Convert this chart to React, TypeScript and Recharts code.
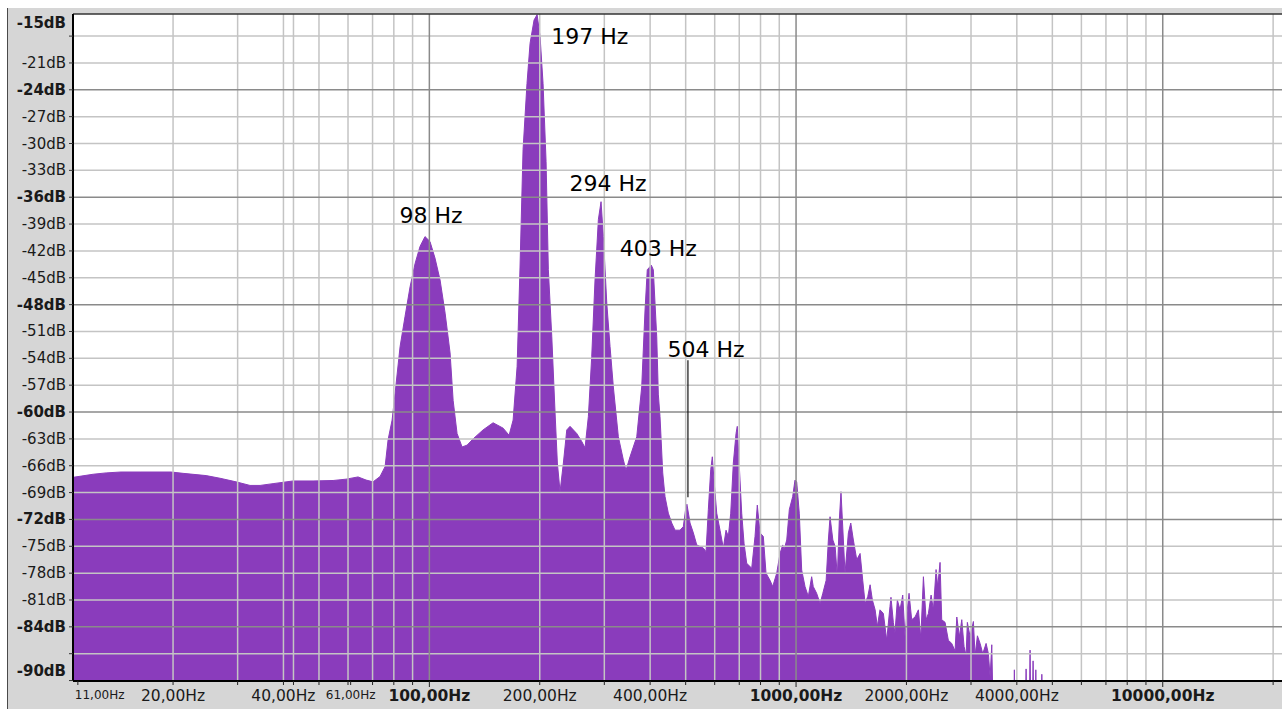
import React from 'react';
import { ComposedChart, Area, XAxis, YAxis, CartesianGrid, ReferenceLine, ReferenceDot } from 'recharts';

// Spectrum samples: frequency (Hz) and level (dB)
const freqHz = [
  10.67, 12.11, 13.14, 14.43, 16.26, 19.76, 21.3, 24.61, 26.87, 29.71, 32.43, 34.54, 37.48, 42.49, 48.17,
  54.63, 59.27, 63.91, 67.21, 70.23, 73.39, 75.73, 77.17, 79.14, 80.64, 83.2, 85.85, 88.6, 91.43, 94.3,
  97.3, 100.4, 103.6, 106.95, 110.4, 113.9, 116.1, 119.0, 122.8, 126.7, 131.6, 140.1, 149.2, 158.9, 165.0,
  169.2, 173.5, 176.7, 180.1, 184.6, 188.2, 193.0, 196.7, 200.4, 204.2, 208.1, 211.1, 215.7, 220.2, 223.4,
  227.2, 232.0, 237.0, 241.9, 252.3, 260.4, 265.8, 271.4, 277.2, 283.0, 289.0, 293.9, 298.2, 304.7, 311.0,
  317.5, 327.6, 338.1, 343.8, 352.6, 367.8, 379.4, 387.4, 392.9, 403.0, 408.1, 416.9, 421.1, 425.6, 432.9,
  439.2, 448.4, 458.1, 467.7, 482.6, 492.7, 501.1, 504.0, 513.9, 524.7, 536.0, 558.7, 568.2, 576.5, 585.2,
  591.1, 597.4, 607.7, 620.4, 633.4, 644.2, 653.6, 663.5, 674.5, 686.0, 691.4, 700.3, 710.9, 721.3, 733.6,
  757.0, 772.9, 784.0, 797.5, 814.2, 828.1, 849.2, 863.6, 885.7, 904.3, 919.7, 927.3, 943.2, 958.6, 979.1,
  993.4, 1004, 1020.5, 1036, 1058, 1080, 1103, 1114, 1138, 1163, 1183, 1208, 1225, 1238, 1260,
  1278, 1296, 1312, 1326, 1346, 1360, 1389, 1410, 1433, 1464, 1495, 1520, 1543, 1569, 1592,
  1615, 1643, 1666, 1694, 1730, 1767, 1804, 1815, 1842, 1861, 1889, 1921, 1954, 1982, 2004,
  2033, 2067, 2111, 2156, 2189, 2225, 2263, 2296, 2335, 2369, 2409, 2434, 2470, 2496, 2549,
  2602, 2658, 2714, 2744, 2789, 2831, 2872, 2909, 2932, 2983, 3045, 3078, 3123, 3176, 3230,
  3298, 3346, 3382, 3418, 3453, 3915, 3939, 3963, 4215, 4240, 4265, 4322, 4347, 4372, 4405,
  4430, 4455, 4482, 4507, 4532, 4655, 4680, 4705, 21146,
];
const levelDb = [
  -67.3, -66.95, -66.8, -66.7, -66.7, -66.7, -66.85, -67.1, -67.4, -67.8, -68.2, -68.2, -68.0, -67.7, -67.7,
  -67.65, -67.5, -67.25, -67.6, -67.8, -67.2, -66.1, -63.1, -60.9, -57.9, -52.7, -49.3, -46.0, -43.4, -41.5,
  -40.4, -40.95, -42.8, -45.25, -48.95, -53.4, -58.7, -62.4, -63.9, -63.7, -63.0, -62.0, -61.2, -61.8, -62.6,
  -60.9, -54.9, -43.8, -30.7, -23.3, -18.8, -16.2, -15.6, -18.05, -23.3, -32.0, -44.1, -51.6, -60.1, -65.7,
  -68.9, -65.7, -62.0, -61.6, -62.4, -63.3, -64.0, -60.5, -53.8, -45.25, -38.5, -36.5, -40.4, -47.85, -52.7,
  -57.2, -62.75, -65.35, -66.5, -65.0, -62.75, -57.2, -48.6, -44.1, -43.6, -44.1, -51.6, -58.0, -60.5, -66.8,
  -69.45, -71.3, -72.4, -73.2, -73.2, -72.8, -70.55, -70.3, -72.4, -73.5, -74.85, -75.2, -75.6, -70.9, -66.45,
  -65.0, -67.6, -71.3, -73.2, -75.2, -73.2, -73.9, -71.3, -65.7, -62.4, -61.6, -66.1, -71.3, -74.65, -76.9,
  -77.45, -73.9, -70.4, -73.5, -73.9, -78.0, -78.8, -79.5, -78.0, -75.8, -74.85, -75.4, -74.3, -70.9, -69.45,
  -67.6, -67.8, -71.3, -77.65, -79.5, -80.6, -78.4, -79.5, -80.25, -81.4, -80.25, -78.8, -74.3, -71.7, -74.3,
  -75.0, -78.4, -72.1, -68.9, -74.3, -78.0, -73.5, -72.4, -74.3, -76.5, -75.8, -78.8, -81.4, -80.6, -79.3,
  -81.0, -82.1, -83.95, -82.1, -82.5, -85.5, -81.7, -80.7, -83.5, -84.7, -81.0, -82.1, -80.45, -85.1, -82.7,
  -80.25, -83.2, -82.9, -82.1, -85.3, -78.4, -83.2, -82.5, -80.45, -82.1, -77.6, -79.5, -76.8, -83.2, -83.5,
  -85.5, -85.85, -86.7, -82.9, -85.1, -83.2, -86.2, -87.2, -83.5, -85.1, -83.4, -87.2, -85.0, -85.85, -87.0,
  -85.85, -87.0, -89.6, -86.0, -95, -95, -88.8, -95, -95, -88.7, -95, -95, -86.6, -95, -95,
  -87.8, -95, -95, -88.8, -95, -95, -89.3, -95, -95,
];

// Axis domains
const X_MIN = 10.67;
const X_MAX = 21146;
const Y_MIN = -90.05;
const Y_MAX = -15.53;

// X axis ticks / labels / grid
const xTicks = [11, 20, 30, 40, 42.6, 50, 60, 61, 70, 80, 90, 100, 200, 300, 400, 500, 600, 700, 800, 900,
  1000, 2000, 3000, 4000, 5000, 6000, 7000, 8000, 9000, 10000, 20000];
const xTickLabels: Record<number, string> = {
  11: '11,00Hz', 20: '20,00Hz', 40: '40,00Hz', 61: '61,00Hz', 100: '100,00Hz', 200: '200,00Hz',
  400: '400,00Hz', 1000: '1000,00Hz', 2000: '2000,00Hz', 4000: '4000,00Hz', 10000: '10000,00Hz',
};
const xBold = [100, 1000, 10000];
const xSmall = [11, 61];
const xGridMinor = [20, 30, 40, 42.6, 50, 60, 70, 80, 90, 200, 300, 400, 500, 600, 700, 800, 900,
  2000, 3000, 4000, 5000, 6000, 7000, 8000, 9000, 20000];
const xGridMajor = [100, 1000, 10000];

// Y axis ticks / labels / grid
const yTicks = [Y_MAX, -18, -21, -24, -27, -30, -33, -36, -39, -42, -45, -48, -51, -54, -57, -60, -63, -66,
  -69, -72, -75, -78, -81, -84, -87, -90];
const yTickLabels = ['-15dB', '', '-21dB', '-24dB', '-27dB', '-30dB', '-33dB', '-36dB', '-39dB', '-42dB',
  '-45dB', '-48dB', '-51dB', '-54dB', '-57dB', '-60dB', '-63dB', '-66dB', '-69dB', '-72dB', '-75dB',
  '-78dB', '-81dB', '-84dB', '', '-90dB'];
const yBold = ['-15dB', '-24dB', '-36dB', '-48dB', '-60dB', '-72dB', '-84dB', '-90dB'];
const yGridMinor = [-18, -21, -27, -30, -33, -39, -42, -45, -51, -54, -57, -63, -66, -69, -75, -78, -81, -87];
const yGridMajor = [-24, -36, -48, -60, -72, -84];

// Peak annotations
const annoHz = [98, 197, 294, 403, 504];
const annoDb = [-40.4, -15.6, -36.5, -43.6, -70.3];
const annoText = ['98 Hz', '197 Hz', '294 Hz', '403 Hz', '504 Hz'];

const data = freqHz.map((f, i) => ({ f, db: levelDb[i] }));

const FONT = 'DejaVu Sans, Verdana, sans-serif';
const PURPLE = '#8a3cbc';
const GRID_LIGHT = '#c4c4c4';
const GRID_DARK = '#8a8a8a';

const YTick = (props: any) => {
  const { x, y, payload } = props;
  const v = payload.value;
  const idx = yTicks.indexOf(v);
  const label = idx >= 0 ? yTickLabels[idx] : '';
  const bold = yBold.includes(label);
  let dy = 0;
  if (v === Y_MAX) dy = 9.3;
  if (v === -90) dy = -10;
  return (
    <g>
      {v !== Y_MAX && <line x1={x - 4} x2={x} y1={y} y2={y} stroke="#333" strokeWidth={1} />}
      {label && (
        <text x={x - 7} y={y + dy} textAnchor="end" dominantBaseline="central" fontFamily={FONT}
          fontSize={15} fontWeight={bold ? 'bold' : 'normal'} fill="#1a1a1a">{label}</text>
      )}
    </g>
  );
};

const XTick = (props: any) => {
  const { x, y, payload } = props;
  const v = payload.value;
  const label = xTickLabels[v];
  const bold = xBold.includes(v);
  const small = xSmall.includes(v);
  const first = v === xTicks[0];
  return (
    <g>
      <line x1={x} x2={x} y1={y} y2={y + (bold ? 6 : 4)} stroke="#222" strokeWidth={1} />
      {label && (
        <text x={first ? x - 3 : x} y={y + (small ? 14 : 15)} textAnchor={first ? 'start' : 'middle'}
          dominantBaseline="central" fontFamily={FONT} fontSize={small ? 12 : 15.5}
          fontWeight={bold ? 'bold' : 'normal'} fill="#1a1a1a">{label}</text>
      )}
    </g>
  );
};

const annoOffsets = [
  { dx: 5, dy: -14, anchor: 'middle' },
  { dx: 14, dy: 29, anchor: 'start' },
  { dx: 7, dy: -11, anchor: 'middle' },
  { dx: 7, dy: -9, anchor: 'middle' },
  { dx: 19, dy: -147, anchor: 'middle', line: true },
];

export default function App() {
  return (
    <div style={{ position: 'fixed', left: 0, top: 0, width: 1282, height: 709, overflow: 'hidden', background: '#fff' }}>
      <div style={{ position: 'absolute', left: 7, top: 8, width: 1275, height: 701, background: '#d6d6d6',
        borderLeft: '1px solid #4a4a4a', boxSizing: 'border-box' }} />
      <div style={{ position: 'absolute', left: 0, top: 0 }}>
        <ComposedChart width={1282} height={709} data={data} margin={{ top: 14, right: 0, bottom: 0, left: 0 }}>
          <CartesianGrid fill="#ffffff" horizontal={false} vertical={false} />
          <XAxis dataKey="f" type="number" scale="log" domain={[X_MIN, X_MAX]} allowDataOverflow
            ticks={xTicks} interval={0} tick={<XTick />} tickLine={false} tickSize={0} tickMargin={0}
            height={28} axisLine={{ stroke: '#000', strokeWidth: 2 }} />
          <YAxis type="number" domain={[Y_MIN, Y_MAX]} allowDataOverflow ticks={yTicks} interval={0}
            tick={<YTick />} tickLine={false} tickSize={0} tickMargin={0} width={73}
            axisLine={{ stroke: '#000', strokeWidth: 2 }} />
          <Area type="linear" dataKey="db" baseValue={Y_MIN} stroke={PURPLE} strokeWidth={1} fill={PURPLE}
            fillOpacity={1} isAnimationActive={false} dot={false} activeDot={false} />
          {yGridMinor.map((v) => (
            <ReferenceLine key={'ym' + v} y={v} stroke={GRID_LIGHT} strokeWidth={1.5} />
          ))}
          {xGridMinor.map((v) => (
            <ReferenceLine key={'xm' + v} x={v} stroke={GRID_LIGHT} strokeWidth={1.5} />
          ))}
          {yGridMajor.map((v) => (
            <ReferenceLine key={'yM' + v} y={v} stroke={GRID_DARK} strokeWidth={1.5} />
          ))}
          {xGridMajor.map((v) => (
            <ReferenceLine key={'xM' + v} x={v} stroke={GRID_DARK} strokeWidth={1.5} />
          ))}
          <ReferenceLine y={Y_MAX} stroke="#333" strokeWidth={1.5} />
          {annoHz.map((hz, i) => (
            <ReferenceDot key={'a' + i} x={hz} y={annoDb[i]} r={0} ifOverflow="visible"
              shape={(p: any) => {
                const o = annoOffsets[i];
                return (
                  <g>
                    {o.line && <line x1={p.cx + 1} x2={p.cx + 1} y1={p.cy - 144} y2={p.cy - 7} stroke="#111" strokeWidth={1.2} />}
                    <text x={p.cx + o.dx} y={p.cy + o.dy} textAnchor={o.anchor as any} fontFamily={FONT}
                      fontSize={22} fill="#000">{annoText[i]}</text>
                  </g>
                );
              }} />
          ))}
        </ComposedChart>
      </div>
    </div>
  );
}
